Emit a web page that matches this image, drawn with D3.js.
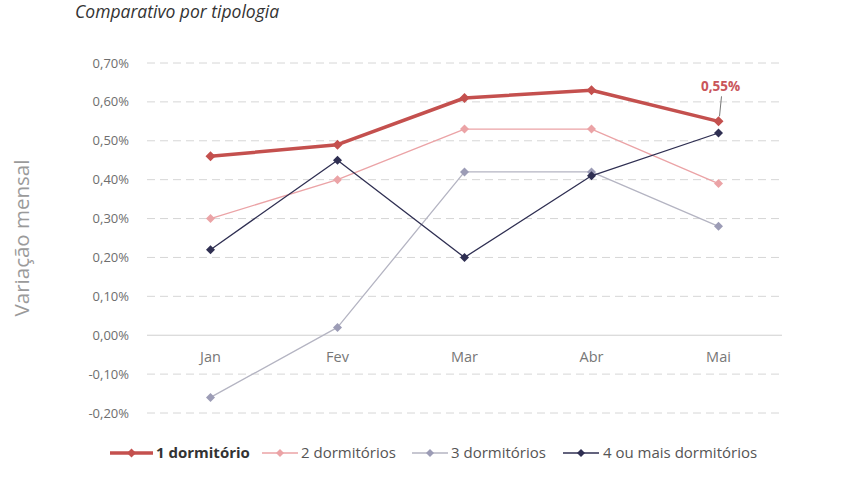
<!DOCTYPE html>
<html>
<head>
<meta charset="utf-8">
<script src="https://cdn.jsdelivr.net/npm/d3@7"></script>
<style>
  body { margin: 0; background: #fff; }
  svg { display: block; font-family: "Open Sans", "Roboto", sans-serif; }
</style>
</head>
<body>
<div id="chart"></div>
<script>
const months = ["Jan", "Fev", "Mar", "Abr", "Mai"];
const yTicks = [-0.2, -0.1, 0, 0.1, 0.2, 0.3, 0.4, 0.5, 0.6, 0.7];

const umDorm = [0.46, 0.49, 0.61, 0.63, 0.55];
const doisDorm = [0.30, 0.40, 0.53, 0.53, 0.39];
const tresDorm = [-0.16, 0.02, 0.42, 0.42, 0.28];
const quatroDorm = [0.22, 0.45, 0.20, 0.41, 0.52];

const seriesNames = ["1 dormitório", "2 dormitórios", "3 dormitórios", "4 ou mais dormitórios"];

const red = "#c4504e",
    pink = "#eba3a6",
    lilac = "#b4b4c2",
    navy = "#2f2f52";

const series = [
    { name: seriesNames[0], values: umDorm, line: red, marker: red, width: 3.5, r: 5 },
    { name: seriesNames[1], values: doisDorm, line: pink, marker: pink, width: 1.3, r: 4.5 },
    { name: seriesNames[2], values: tresDorm, line: lilac, marker: "#9c9cb6", width: 1.3, r: 4.5 },
    { name: seriesNames[3], values: quatroDorm, line: navy, marker: navy, width: 1.3, r: 4.5 }
];

const width = 856, height = 481;
const margin = { top: 63, right: 74, bottom: 68, left: 147 };

const svg = d3.select("#chart")
    .append("svg")
    .attr("width", width)
    .attr("height", height);

const x = d3.scaleBand()
    .domain(months)
    .range([margin.left, width - margin.right]);

const y = d3.scaleLinear()
    .domain([-0.2, 0.7])
    .range([height - margin.bottom, margin.top]);

const fmt = v => d3.format(".2f")(v).replace("−", "-").replace(".", ",") + "%";

// square diamond (equal width and height)
const diamondPath = r => `M0,${-r}L${r},0L0,${r}L${-r},0Z`;

// title
svg.append("text")
    .attr("x", 75)
    .attr("y", 18)
    .style("font-style", "italic")
    .style("font-size", "17.5px")
    .attr("fill", "#333")
    .text("Comparativo por tipologia");

// y axis title
svg.append("text")
    .attr("transform", `translate(29, ${(y(0.7) + y(-0.2)) / 2}) rotate(-90)`)
    .attr("text-anchor", "middle")
    .style("font-size", "20.5px")
    .attr("fill", "#9a9a9a")
    .text("Variação mensal");

// grid
svg.append("g")
    .selectAll("line")
    .data(yTicks)
    .join("line")
    .attr("x1", margin.left)
    .attr("x2", width - margin.right)
    .attr("y1", d => y(d))
    .attr("y2", d => y(d))
    .attr("stroke", d => d === 0 ? "#cfcfcf" : "#d6d6d6")
    .attr("stroke-width", 1)
    .attr("stroke-dasharray", d => d === 0 ? null : "8,5");

// y tick labels
svg.append("g")
    .selectAll("text")
    .data(yTicks)
    .join("text")
    .attr("x", 129)
    .attr("y", d => y(d))
    .attr("dy", "0.35em")
    .attr("text-anchor", "end")
    .style("font-size", "13px")
    .attr("fill", "#6e6e6e")
    .text(fmt);

// x tick labels
svg.append("g")
    .selectAll("text")
    .data(months)
    .join("text")
    .attr("x", d => x(d) + x.bandwidth() / 2)
    .attr("y", y(0) + 27)
    .attr("text-anchor", "middle")
    .style("font-size", "14.5px")
    .attr("fill", "#777")
    .text(d => d);

const line = d3.line()
    .x((d, i) => x(months[i]) + x.bandwidth() / 2)
    .y(d => y(d));

// draw thinner series first, thick red on top
const order = [2, 1, 3, 0];
order.forEach(k => {
    const s = series[k];
    const g = svg.append("g");
    g.append("path")
        .attr("d", line(s.values))
        .attr("fill", "none")
        .attr("stroke", s.line)
        .attr("stroke-width", s.width)
        .attr("stroke-linejoin", "round");
    g.selectAll("path.pt")
        .data(s.values)
        .join("path")
        .attr("class", "pt")
        .attr("transform", (d, i) => `translate(${x(months[i]) + x.bandwidth() / 2},${y(d)})`)
        .attr("d", diamondPath(s.r))
        .attr("fill", s.marker);
});

// annotation for last value of 1 dormitório
const lastX = x(months[4]) + x.bandwidth() / 2;
const lastY = y(umDorm[4]);
svg.append("line")
    .attr("x1", lastX + 1)
    .attr("y1", lastY - 5)
    .attr("x2", lastX + 3)
    .attr("y2", lastY - 25)
    .attr("stroke", "#777")
    .attr("stroke-width", 1);
svg.append("text")
    .attr("x", lastX + 2)
    .attr("y", lastY - 30)
    .attr("text-anchor", "middle")
    .style("font-weight", "bold")
    .style("font-size", "13.5px")
    .attr("fill", "#c9555a")
    .text(fmt(umDorm[4]));

// legend
const legendItems = [
    { x: 110, len: 43, textX: 156 },
    { x: 262, len: 36, textX: 301 },
    { x: 412, len: 36, textX: 451 },
    { x: 563, len: 36, textX: 603 }
];
const legend = svg.append("g");
series.forEach((s, i) => {
    const it = legendItems[i];
    const ly = 453;
    legend.append("line")
        .attr("x1", it.x)
        .attr("x2", it.x + it.len)
        .attr("y1", ly)
        .attr("y2", ly)
        .attr("stroke", s.line)
        .attr("stroke-width", s.width);
    legend.append("path")
        .attr("transform", `translate(${it.x + it.len / 2},${ly})`)
        .attr("d", diamondPath(s.r - 0.5))
        .attr("fill", s.marker);
    legend.append("text")
        .attr("x", it.textX)
        .attr("y", ly)
        .attr("dy", "0.35em")
        .style("font-size", "15px")
        .style("font-weight", i === 0 ? "bold" : "normal")
        .attr("fill", i === 0 ? "#333" : "#555")
        .text(s.name);
});
</script>
</body>
</html>
